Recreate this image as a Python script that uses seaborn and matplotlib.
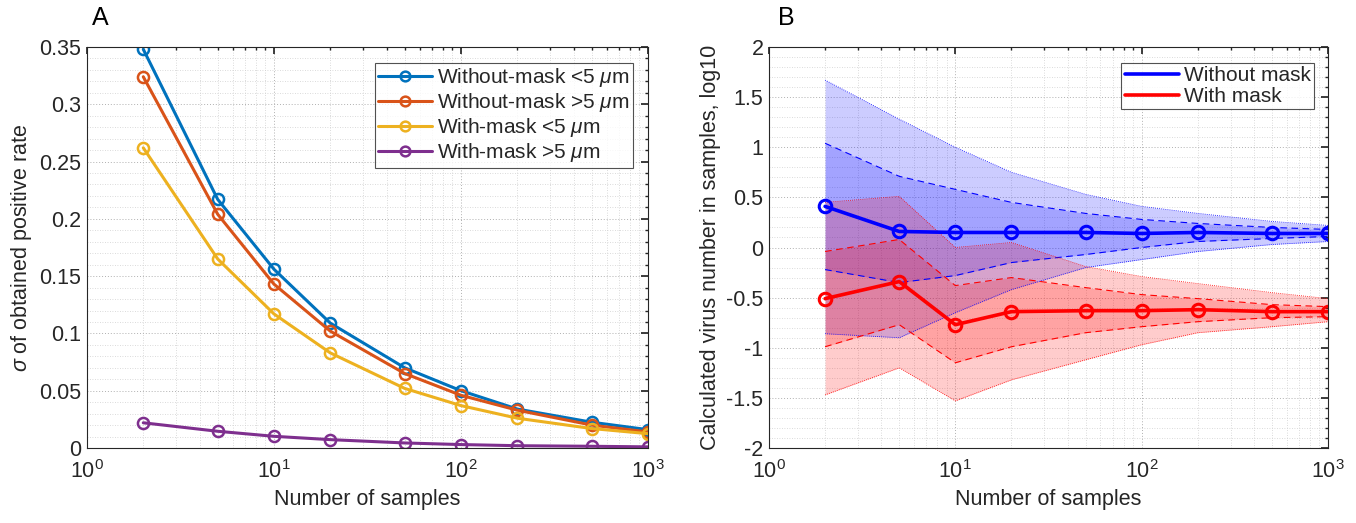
import numpy as np
import pandas as pd
import matplotlib
matplotlib.use("Agg")
import matplotlib.pyplot as plt
import seaborn as sns
from matplotlib.ticker import LogLocator, FixedLocator, MultipleLocator, NullFormatter

sns.set_theme(style="white")
plt.rcParams['font.family'] = ['Liberation Sans', 'DejaVu Sans']
plt.rcParams['mathtext.fontset'] = 'custom'
plt.rcParams['mathtext.rm'] = 'Liberation Sans'
plt.rcParams['mathtext.it'] = 'Liberation Sans:italic'
plt.rcParams['axes.unicode_minus'] = False

# ---------------- data ----------------
n_samples = [2, 5, 10, 20, 50, 100, 200, 500, 1000]

# Panel A
without_lt5 = [0.348, 0.217, 0.156, 0.109, 0.070, 0.050, 0.034, 0.0225, 0.016]
without_gt5 = [0.324, 0.204, 0.143, 0.102, 0.065, 0.046, 0.033, 0.020, 0.014]
with_lt5 = [0.262, 0.165, 0.117, 0.083, 0.052, 0.037, 0.026, 0.017, 0.0125]
with_gt5 = [0.022, 0.0146, 0.0102, 0.0073, 0.0044, 0.003, 0.002, 0.0015, 0.001]
labels_a = [r"Without-mask <5 $\mu$m", r"Without-mask >5 $\mu$m",
            r"With-mask <5 $\mu$m", r"With-mask >5 $\mu$m"]
colors_a = ["#0072BD", "#D95319", "#EDB120", "#7E2F8E"]

# Panel B (log10 virus number)
nomask_mean = [0.41, 0.16, 0.15, 0.15, 0.15, 0.14, 0.15, 0.14, 0.14]
nomask_outer_hi = [1.67, 1.28, 1.00, 0.75, 0.53, 0.41, 0.34, 0.26, 0.22]
nomask_inner_hi = [1.04, 0.71, 0.58, 0.45, 0.34, 0.28, 0.24, 0.20, 0.18]
nomask_inner_lo = [-0.22, -0.35, -0.28, -0.15, -0.07, 0.00, 0.06, 0.09, 0.11]
nomask_outer_lo = [-0.86, -0.90, -0.65, -0.42, -0.20, -0.12, -0.04, 0.03, 0.06]

mask_mean = [-0.51, -0.34, -0.77, -0.64, -0.63, -0.63, -0.62, -0.64, -0.64]
mask_outer_hi = [0.45, 0.51, 0.00, 0.05, -0.19, -0.29, -0.36, -0.45, -0.51]
mask_inner_hi = [-0.04, 0.08, -0.38, -0.30, -0.40, -0.47, -0.51, -0.57, -0.59]
mask_inner_lo = [-0.99, -0.77, -1.15, -0.99, -0.85, -0.79, -0.74, -0.70, -0.69]
mask_outer_lo = [-1.47, -1.20, -1.53, -1.32, -1.12, -0.97, -0.85, -0.79, -0.74]

labels_b = ["Without mask", "With mask"]
colors_b = ["#0000FF", "#FF0000"]

yticks_a = [0, 0.05, 0.1, 0.15, 0.2, 0.25, 0.3, 0.35]
ytick_labels_a = ["0", "0.05", "0.1", "0.15", "0.2", "0.25", "0.3", "0.35"]
yticks_b = [-2, -1.5, -1, -0.5, 0, 0.5, 1, 1.5, 2]
ytick_labels_b = ["-2", "-1.5", "-1", "-0.5", "0", "0.5", "1", "1.5", "2"]
xticks = [1, 10, 100, 1000]
xtick_labels = [r"$10^0$", r"$10^1$", r"$10^2$", r"$10^3$"]

# ---------------- figure ----------------
W, H = 1356, 523
fig = plt.figure(figsize=(W / 100, H / 100), dpi=100)
axA = fig.add_axes([87 / W, 1 - 448 / H, 561 / W, 401 / H])
axB = fig.add_axes([769 / W, 1 - 448 / H, 559 / W, 401 / H])

axcol = "#262626"
fs = 15.5
fs_leg = 15


def style_axes(ax):
    ax.set_xscale("log")
    ax.set_xlim(1, 1000)
    ax.xaxis.set_major_locator(FixedLocator(xticks))
    ax.set_xticklabels(xtick_labels)
    ax.xaxis.set_minor_locator(LogLocator(base=10, subs=np.arange(2, 10)))
    ax.xaxis.set_minor_formatter(NullFormatter())
    ax.grid(which="major", color="#b0b0b0", linestyle=(0, (1, 2)), linewidth=0.7)
    ax.grid(which="minor", color="#cfcfcf", linestyle=(0, (1, 2)), linewidth=0.6)
    ax.set_axisbelow(True)
    for s in ax.spines.values():
        s.set_color(axcol)
        s.set_linewidth(0.8)
        s.set_visible(True)
    ax.tick_params(which="both", direction="in", top=True, right=True,
                   colors=axcol, labelsize=fs, labelcolor="#262626")
    ax.tick_params(which="major", length=5)
    ax.tick_params(which="minor", length=2.5)
    ax.tick_params(axis="x", which="major", pad=9)
    ax.tick_params(axis="y", which="major", pad=4)
    ax.set_xlabel("Number of samples", fontsize=fs, color="#262626", labelpad=4)


# Panel A
series_a = [without_lt5, without_gt5, with_lt5, with_gt5]
df_a = pd.DataFrame({
    "n": np.tile(n_samples, 4),
    "value": np.concatenate(series_a),
    "series": np.repeat(labels_a, len(n_samples)),
})
sns.lineplot(data=df_a, x="n", y="value", hue="series", hue_order=labels_a,
             palette=colors_a, marker="o", markersize=8, markerfacecolor="none",
             markeredgewidth=1.8, linewidth=2.2, ax=axA, legend=False)
for line, c in zip(axA.get_lines(), colors_a):
    line.set_markeredgecolor(c)
style_axes(axA)
axA.set_ylim(0, 0.35)
axA.yaxis.set_major_locator(FixedLocator(yticks_a))
axA.set_yticklabels(ytick_labels_a)
axA.yaxis.set_minor_locator(MultipleLocator(0.01))
axA.set_ylabel(r"$\sigma$ of obtained positive rate", fontsize=fs, color="#262626")
handles = [plt.Line2D([], [], color=c, marker="o", markersize=7, markerfacecolor="none",
                      markeredgewidth=1.8, linewidth=2.2) for c in colors_a]
legA = axA.legend(handles, labels_a, loc="upper right", bbox_to_anchor=(0.973, 0.96),
                  fontsize=fs_leg, frameon=True, fancybox=False, edgecolor="#262626",
                  handlelength=2.6, handletextpad=0.25, borderpad=0.15, labelspacing=0.1,
                  borderaxespad=0)
legA.get_frame().set_linewidth(0.8)
fig.text(92 / W, 1 - 18 / H, "A", fontsize=18, va="center", ha="left", color="#000000")

# Panel B
bands = [
    (nomask_outer_lo, nomask_outer_hi, nomask_inner_lo, nomask_inner_hi, colors_b[0]),
    (mask_outer_lo, mask_outer_hi, mask_inner_lo, mask_inner_hi, colors_b[1]),
]
for olo, ohi, ilo, ihi, c in bands:
    axB.fill_between(n_samples, olo, ohi, color=c, alpha=0.2, linewidth=0)
    axB.fill_between(n_samples, ilo, ihi, color=c, alpha=0.2, linewidth=0)
    axB.plot(n_samples, olo, color=c, linestyle=(0, (1, 1.5)), linewidth=0.6)
    axB.plot(n_samples, ohi, color=c, linestyle=(0, (1, 1.5)), linewidth=0.6)
    axB.plot(n_samples, ilo, color=c, linestyle=(0, (6, 4)), linewidth=0.8)
    axB.plot(n_samples, ihi, color=c, linestyle=(0, (6, 4)), linewidth=0.8)

df_b = pd.DataFrame({
    "n": np.tile(n_samples, 2),
    "value": np.concatenate([nomask_mean, mask_mean]),
    "series": np.repeat(labels_b, len(n_samples)),
})
sns.lineplot(data=df_b, x="n", y="value", hue="series", hue_order=labels_b,
             palette=colors_b, marker="o", markersize=9, markerfacecolor="none",
             markeredgewidth=2.2, linewidth=2.6, ax=axB, legend=False)
for line in axB.get_lines()[-2:]:
    line.set_markeredgecolor(line.get_color())
style_axes(axB)
axB.set_ylim(-2, 2)
axB.yaxis.set_major_locator(FixedLocator(yticks_b))
axB.set_yticklabels(ytick_labels_b)
axB.yaxis.set_minor_locator(MultipleLocator(0.1))
axB.set_ylabel("Calculated virus number in samples, log10", fontsize=fs, color="#262626")
handles_b = [plt.Line2D([], [], color=c, linewidth=2.6) for c in colors_b]
legB = axB.legend(handles_b, labels_b, loc="upper right", bbox_to_anchor=(0.975, 0.96),
                  fontsize=fs_leg, frameon=True, fancybox=False, edgecolor="#262626",
                  handlelength=2.6, handletextpad=0.25, borderpad=0.15, labelspacing=0.1,
                  borderaxespad=0)
legB.get_frame().set_linewidth(0.8)
fig.text(778 / W, 1 - 18 / H, "B", fontsize=18, va="center", ha="left", color="#000000")

fig.savefig("out.png", dpi=100, facecolor="white")
